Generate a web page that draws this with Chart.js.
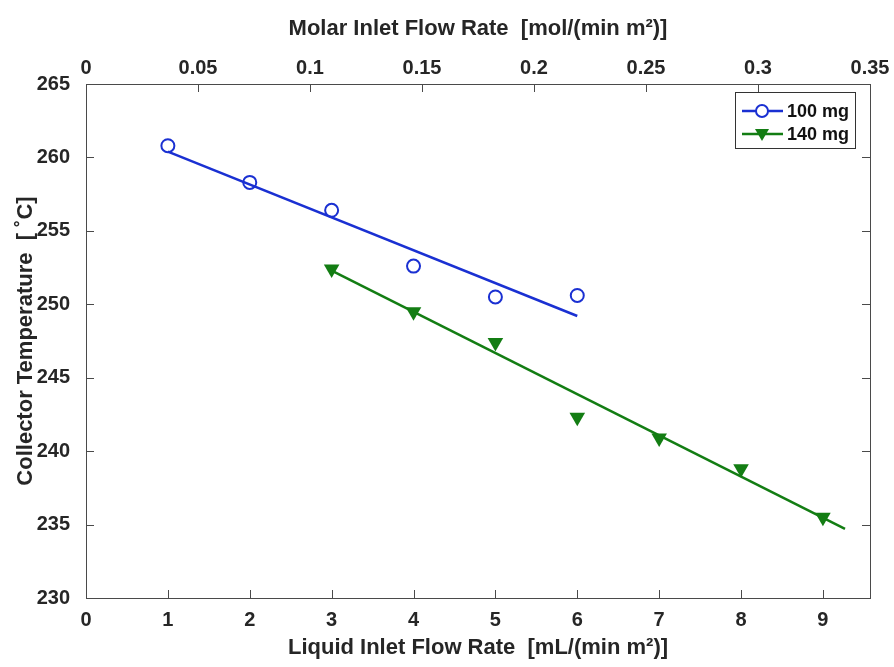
<!DOCTYPE html>
<html>
<head>
<meta charset="utf-8">
<script src="https://cdn.jsdelivr.net/npm/chart.js@4.4.1/dist/chart.umd.min.js"></script>
<style>
  body { margin: 0; background: #fff; }
</style>
</head>
<body>
<canvas id="myChart" width="894" height="667"></canvas>
<script>
// values
const flowRate100 = [1, 2, 3, 4, 5, 6];
const temp100 = [260.8, 258.3, 256.4, 252.6, 250.5, 250.6];
const flowRate140 = [3, 4, 5, 6, 7, 8, 9];
const temp140 = [252.4, 249.5, 247.4, 242.3, 240.9, 238.8, 235.5];

// linear fit lines (end points)
const fitX100 = [1, 6];
const fitY100 = [260.4, 249.2];
const fitX140 = [3, 9.27];
const fitY140 = [252.3, 234.7];

const liquidTicks = [0, 1, 2, 3, 4, 5, 6, 7, 8, 9];
const molarTicks = [0, 0.05, 0.1, 0.15, 0.2, 0.25, 0.3, 0.35];
const tempTicks = [230, 235, 240, 245, 250, 255, 260, 265];

const blue = '#1a30d2';
const green = '#137d13';
const axisColor = '#4a4a4a';
const textColor = '#262626';
const fam = "'Liberation Sans', Arial, Helvetica, sans-serif";

const pts = (xs, ys) => xs.map((x, i) => ({ x: x, y: ys[i] }));
const setTicks = arr => scale => { scale.ticks = arr.map(v => ({ value: v })); };
const plain = v => String(v);

// box, inward tick marks and the legend inside the plot
const frame = {
  id: 'frame',
  afterDatasetsDraw(chart) {
    const { ctx, chartArea: a, scales } = chart;
    const len = 8;
    ctx.save();
    ctx.strokeStyle = axisColor;
    ctx.lineWidth = 1;
    ctx.beginPath();
    scales.x.ticks.forEach(t => {
      const px = Math.round(scales.x.getPixelForValue(t.value)) + 0.5;
      ctx.moveTo(px, a.bottom); ctx.lineTo(px, a.bottom - len);
    });
    scales.x2.ticks.forEach(t => {
      const px = Math.round(scales.x2.getPixelForValue(t.value)) + 0.5;
      ctx.moveTo(px, a.top); ctx.lineTo(px, a.top + len);
    });
    scales.y.ticks.forEach(t => {
      const py = Math.round(scales.y.getPixelForValue(t.value)) + 0.5;
      ctx.moveTo(a.left, py); ctx.lineTo(a.left + len, py);
      ctx.moveTo(a.right, py); ctx.lineTo(a.right - len, py);
    });
    ctx.stroke();
    ctx.strokeRect(Math.round(a.left) + 0.5, Math.round(a.top) + 0.5,
      Math.round(a.right - a.left), Math.round(a.bottom - a.top));

    // legend
    const bx = 735, by = 92, bw = 120, bh = 56;
    ctx.fillStyle = '#fff';
    ctx.fillRect(bx, by, bw, bh);
    ctx.strokeStyle = '#333';
    ctx.strokeRect(bx + 0.5, by + 0.5, bw, bh);
    const rows = [chart.data.datasets[0], chart.data.datasets[1]];
    rows.forEach((ds, i) => {
      const y = 111 + i * 23;
      ctx.strokeStyle = ds.borderColor;
      ctx.lineWidth = 2.5;
      ctx.beginPath();
      ctx.moveTo(742, y); ctx.lineTo(783, y);
      ctx.stroke();
      ctx.lineWidth = 2;
      if (ds.pointStyle === 'circle') {
        ctx.fillStyle = '#fff';
        ctx.beginPath();
        ctx.arc(762, y, 6, 0, Math.PI * 2);
        ctx.fill(); ctx.stroke();
      } else {
        ctx.fillStyle = ds.backgroundColor;
        ctx.beginPath();
        ctx.moveTo(755, y - 5); ctx.lineTo(769, y - 5); ctx.lineTo(762, y + 7);
        ctx.closePath();
        ctx.fill();
      }
      ctx.fillStyle = '#111';
      ctx.font = 'bold 18px ' + fam;
      ctx.textBaseline = 'middle';
      ctx.textAlign = 'left';
      ctx.fillText(ds.label, 787, y + 1);
    });
    ctx.restore();
  }
};

const tickFont = { family: fam, size: 20, weight: 'bold' };
const titleFont = { family: fam, size: 22, weight: 'bold' };

new Chart(document.getElementById('myChart'), {
  type: 'scatter',
  data: {
    datasets: [
      {
        label: '100 mg',
        data: pts(flowRate100, temp100),
        xAxisID: 'x', yAxisID: 'y',
        pointStyle: 'circle',
        pointRadius: 6.5,
        pointBorderWidth: 2,
        borderColor: blue,
        backgroundColor: 'rgba(0,0,0,0)',
        showLine: false,
      },
      {
        label: '140 mg',
        data: pts(flowRate140, temp140),
        xAxisID: 'x', yAxisID: 'y',
        pointStyle: 'triangle',
        pointRotation: 180,
        pointRadius: 9,
        pointBorderWidth: 0,
        borderColor: green,
        backgroundColor: green,
        showLine: false,
      },
      {
        label: 'fit 100 mg',
        data: pts(fitX100, fitY100),
        xAxisID: 'x', yAxisID: 'y',
        showLine: true,
        pointRadius: 0,
        borderColor: blue,
        borderWidth: 2.5,
      },
      {
        label: 'fit 140 mg',
        data: pts(fitX140, fitY140),
        xAxisID: 'x', yAxisID: 'y',
        showLine: true,
        pointRadius: 0,
        borderColor: green,
        borderWidth: 2.5,
      },
    ]
  },
  options: {
    responsive: false,
    animation: false,
    layout: { padding: { left: 0, right: 24, top: 0, bottom: 0 } },
    plugins: {
      legend: { display: false },
      tooltip: { enabled: false },
    },
    scales: {
      x: {
        type: 'linear',
        position: 'bottom',
        min: 0,
        max: 9.575,
        afterBuildTicks: setTicks(liquidTicks),
        afterFit: s => { s.height = 69; },
        grid: { display: false },
        border: { display: false },
        ticks: { font: tickFont, color: textColor, padding: 2, maxRotation: 0, callback: plain },
        title: {
          display: true,
          text: 'Liquid Inlet Flow Rate  [mL/(min m²)]',
          font: titleFont,
          color: textColor,
          padding: { top: 0, bottom: 6 },
        },
      },
      x2: {
        type: 'linear',
        position: 'top',
        min: 0,
        max: 0.35,
        afterBuildTicks: setTicks(molarTicks),
        afterFit: s => { s.height = 84; },
        grid: { display: false },
        border: { display: false },
        ticks: { font: tickFont, color: textColor, padding: -4, maxRotation: 0, callback: plain },
        title: {
          display: true,
          text: 'Molar Inlet Flow Rate  [mol/(min m²)]',
          font: titleFont,
          color: textColor,
          padding: { top: 16, bottom: 0 },
        },
      },
      y: {
        type: 'linear',
        position: 'left',
        min: 230,
        max: 265,
        afterBuildTicks: setTicks(tempTicks),
        afterFit: s => { s.width = 86; },
        grid: { display: false },
        border: { display: false },
        ticks: { font: tickFont, color: textColor, padding: 8, callback: plain },
        title: {
          display: true,
          text: 'Collector Temperature  [ ˚C]',
          font: titleFont,
          color: textColor,
          padding: { top: 13, bottom: 0 },
        },
      },
    },
  },
  plugins: [frame],
});
</script>
</body>
</html>
